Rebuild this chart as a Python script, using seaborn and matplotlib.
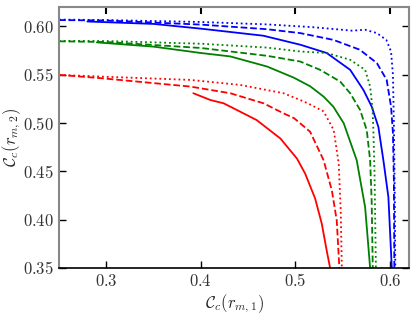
import numpy as np
import pandas as pd
import matplotlib
matplotlib.use("Agg")
import matplotlib.pyplot as plt
import seaborn as sns
from matplotlib.ticker import FuncFormatter

# curves: (x, y) for each colour / line style
blue_dot_x = [0.25, 0.30, 0.40, 0.47, 0.52, 0.56, 0.5735, 0.586, 0.596, 0.601, 0.603, 0.604, 0.605, 0.6055]
blue_dot_y = [0.607, 0.6065, 0.6045, 0.602, 0.599, 0.5955, 0.5965, 0.593, 0.586, 0.574, 0.55, 0.50, 0.42, 0.35]

blue_dash_x = [0.25, 0.30, 0.40, 0.47, 0.505, 0.54, 0.568, 0.586, 0.5964, 0.601, 0.603, 0.604, 0.6045]
blue_dash_y = [0.6065, 0.606, 0.6018, 0.597, 0.593, 0.586, 0.5758, 0.562, 0.5446, 0.517, 0.49, 0.44, 0.35]

blue_sol_x = [0.28, 0.35, 0.40, 0.466, 0.505, 0.533, 0.5578, 0.5718, 0.5806, 0.5876, 0.5929, 0.5982, 0.6018]
blue_sol_y = [0.605, 0.6025, 0.5976, 0.5903, 0.581, 0.5724, 0.555, 0.5342, 0.5169, 0.496, 0.4615, 0.4234, 0.35]

green_dot_x = [0.25, 0.30, 0.40, 0.47, 0.505, 0.533, 0.5578, 0.5736, 0.5789, 0.5815, 0.5823, 0.5835, 0.585]
green_dot_y = [0.585, 0.5848, 0.582, 0.578, 0.574, 0.5724, 0.5654, 0.555, 0.5377, 0.5135, 0.4927, 0.45, 0.35]

green_dash_x = [0.25, 0.30, 0.40, 0.47, 0.505, 0.526, 0.5472, 0.5578, 0.5683, 0.5753, 0.5789, 0.5805, 0.5817]
green_dash_y = [0.5845, 0.5838, 0.5776, 0.5695, 0.5636, 0.555, 0.5429, 0.5308, 0.5135, 0.4927, 0.4615, 0.42, 0.35]

green_sol_x = [0.29, 0.35, 0.40, 0.431, 0.47, 0.498, 0.5155, 0.5297, 0.540, 0.551, 0.5647, 0.5736, 0.5789]
green_sol_y = [0.5834, 0.579, 0.5724, 0.5689, 0.5584, 0.547, 0.538, 0.5273, 0.5169, 0.4997, 0.4615, 0.413, 0.35]

red_dot_x = [0.25, 0.30, 0.3887, 0.4415, 0.4873, 0.505, 0.5137, 0.5297, 0.5404, 0.5457, 0.5478, 0.549]
red_dot_y = [0.5498, 0.5478, 0.5446, 0.5394, 0.5308, 0.5238, 0.520, 0.512, 0.4927, 0.458, 0.41, 0.35]

red_dash_x = [0.25, 0.294, 0.3887, 0.431, 0.4662, 0.4873, 0.4985, 0.5155, 0.5297, 0.5385, 0.5436, 0.5464]
red_dash_y = [0.5498, 0.5464, 0.5377, 0.5308, 0.5204, 0.510, 0.505, 0.4909, 0.4615, 0.430, 0.3992, 0.35]

red_sol_x = [0.392, 0.41, 0.424, 0.445, 0.459, 0.484, 0.5015, 0.5102, 0.5208, 0.5278, 0.533, 0.5366]
red_sol_y = [0.5308, 0.5238, 0.5204, 0.510, 0.503, 0.484, 0.4633, 0.4477, 0.4218, 0.3958, 0.368, 0.35]

curves = [
    (blue_dot_x, blue_dot_y, "blue", ":"),
    (blue_dash_x, blue_dash_y, "blue", "--"),
    (blue_sol_x, blue_sol_y, "blue", "-"),
    (green_dot_x, green_dot_y, "green", ":"),
    (green_dash_x, green_dash_y, "green", "--"),
    (green_sol_x, green_sol_y, "green", "-"),
    (red_dot_x, red_dot_y, "red", ":"),
    (red_dash_x, red_dash_y, "red", "--"),
    (red_sol_x, red_sol_y, "red", "-"),
]

sns.set_style("ticks")
plt.rcParams["mathtext.fontset"] = "cm"
plt.rcParams["font.family"] = ["DejaVu Serif"]

fig = plt.figure(figsize=(4.16, 3.14), dpi=100)
ax = fig.add_axes([0.1418, 0.1465, 0.8414, 0.8312])

for xs, ys, col, ls in curves:
    df = pd.DataFrame({"x": xs, "y": ys})
    sns.lineplot(data=df, x="x", y="y", color=col, linestyle=ls, lw=1.3,
                 sort=False, estimator=None, ax=ax)

ax.set_xlim(0.25, 0.62)
ax.set_ylim(0.35, 0.62)
ax.set_xticks([0.3, 0.4, 0.5, 0.6])
ax.set_yticks([0.35, 0.40, 0.45, 0.50, 0.55, 0.60])
ax.xaxis.set_major_formatter(FuncFormatter(lambda v, p: f"${v:.1f}$"))
ax.yaxis.set_major_formatter(FuncFormatter(lambda v, p: f"${v:.2f}$"))
ax.tick_params(direction="in", top=True, right=True, length=5, width=1,
               labelsize=12, colors="black", labelcolor="#333333")
ax.tick_params(axis="x", which="major", top=True)
for t in ax.xaxis.get_major_ticks():
    t.tick2line.set_color("#777777")
    t.tick2line.set_markeredgewidth(1.5)

ax.set_xlabel(r"$\mathcal{C}_c(r_{m,1})$", fontsize=12, labelpad=2)
ax.set_ylabel(r"$\mathcal{C}_c(r_{m,2})$", fontsize=12)
ax.yaxis.set_label_coords(-0.104, 0.5)

for side in ["left", "right", "top"]:
    ax.spines[side].set_color("#888888")
    ax.spines[side].set_linewidth(1.5)
ax.spines["bottom"].set_color("black")
ax.spines["bottom"].set_linewidth(1.2)

fig.savefig("out.png", dpi=100)
